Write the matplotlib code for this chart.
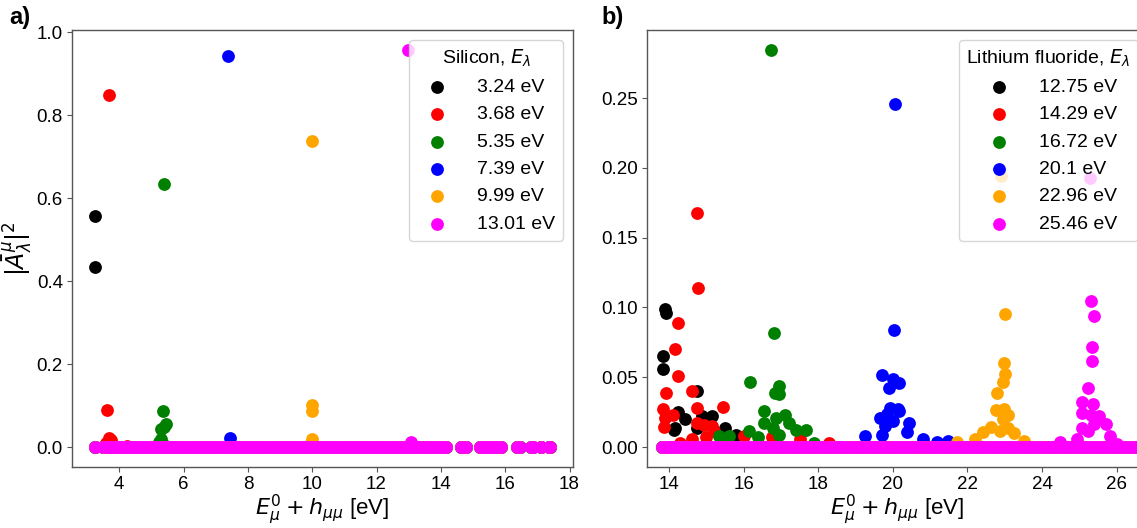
import numpy as np
import matplotlib
matplotlib.use('Agg')
import matplotlib.pyplot as plt

plt.rcParams['font.family'] = ['Liberation Sans', 'DejaVu Sans']
plt.rcParams['mathtext.fontset'] = 'dejavusans'

colors = ['black', 'red', 'green', 'blue', 'orange', 'magenta']

# ---- Silicon: basis energies E0_mu + h_mumu (all sit near zero weight)
si_levels = [3.24, 3.50, 3.58, 3.67, 3.75, 3.84, 3.92, 4.01, 4.10, 4.18, 4.27, 4.35,
             4.44, 4.53, 4.61, 4.70, 4.78, 4.87, 4.96, 5.04, 5.13, 5.21, 5.30, 5.39,
             5.47, 5.56, 5.64, 5.73, 5.82, 5.90, 5.99, 6.07, 6.16, 6.25, 6.33, 6.42,
             6.50, 6.59, 6.68, 6.76, 6.85, 6.93, 7.02, 7.11, 7.19, 7.28, 7.36, 7.45,
             7.54, 7.62, 7.71, 7.79, 7.88, 7.97, 8.05, 8.14, 8.22, 8.31, 8.40, 8.48,
             8.57, 8.65, 8.74, 8.83, 8.91, 9.00, 9.08, 9.17, 9.26, 9.34, 9.43, 9.51,
             9.60, 9.69, 9.77, 9.86, 9.94, 10.03, 10.12, 10.20, 10.29, 10.37, 10.46,
             10.55, 10.63, 10.72, 10.80, 10.89, 10.98, 11.06, 11.15, 11.23, 11.32,
             11.41, 11.49, 11.58, 11.66, 11.75, 11.84, 11.92, 12.01, 12.09, 12.18,
             12.27, 12.35, 12.44, 12.52, 12.61, 12.70, 12.78, 12.87, 12.95, 13.04,
             13.13, 13.21, 13.30, 13.38, 13.47, 13.56, 13.64, 13.73, 13.81, 13.90,
             13.99, 14.07, 14.16, 14.62, 14.70, 14.78, 15.22, 15.30, 15.38, 15.47,
             15.55, 15.63, 15.72, 15.80, 15.88, 16.38, 16.46, 16.80, 16.86, 17.10,
             17.35, 17.40]

si_labels = ['3.24 eV', '3.68 eV', '5.35 eV', '7.39 eV', '9.99 eV', '13.01 eV']

# visible non-zero weights of each Silicon exciton
si_peak_x = [
    [3.24, 3.24],
    [3.68, 3.63, 3.68, 3.73, 3.60, 4.25],
    [5.38, 5.37, 5.45, 5.40, 5.30, 5.30, 5.25, 5.40],
    [7.39, 7.43],
    [9.99, 9.99, 10.00, 10.00, 9.95],
    [12.98, 13.08],
]
si_peak_y = [
    [0.557, 0.433],
    [0.848, 0.090, 0.021, 0.016, 0.010, 0.003],
    [0.633, 0.088, 0.055, 0.049, 0.044, 0.020, 0.012, 0.006],
    [0.942, 0.021],
    [0.737, 0.102, 0.087, 0.019, 0.010],
    [0.957, 0.012],
]

# ---- Lithium fluoride basis energies
lif_levels = [13.80, 13.88, 13.97, 14.05, 14.14, 14.22, 14.31, 14.40, 14.48, 14.57,
              14.66, 14.74, 14.83, 14.91, 15.00, 15.09, 15.17, 15.26, 15.34, 15.43,
              15.52, 15.60, 15.69, 15.77, 15.86, 15.95, 16.03, 16.12, 16.20, 16.29,
              16.38, 16.46, 16.55, 16.63, 16.72, 16.81, 16.89, 16.98, 17.06, 17.15,
              17.24, 17.32, 17.41, 17.49, 17.58, 17.67, 17.75, 17.84, 17.92, 18.01,
              18.10, 18.18, 18.27, 18.35, 18.44, 18.53, 18.61, 18.70, 18.78, 18.87,
              18.96, 19.04, 19.13, 19.21, 19.30, 19.39, 19.47, 19.56, 19.64, 19.73,
              19.82, 19.90, 19.99, 20.07, 20.16, 20.25, 20.33, 20.42, 20.50, 20.59,
              20.68, 20.76, 20.85, 20.93, 21.02, 21.11, 21.19, 21.28, 21.36, 21.45,
              21.54, 21.62, 21.71, 21.79, 21.88, 21.97, 22.05, 22.14, 22.22, 22.31,
              22.40, 22.48, 22.57, 22.65, 22.74, 22.83, 22.91, 23.00, 23.08, 23.17,
              23.26, 23.34, 23.43, 23.51, 23.60, 23.69, 23.77, 23.86, 23.94, 24.03,
              24.12, 24.20, 24.29, 24.37, 24.46, 24.55, 24.63, 24.72, 24.80, 24.89,
              24.98, 25.06, 25.15, 25.23, 25.32, 25.41, 25.49, 25.58, 25.66, 25.75,
              25.84, 25.92, 26.01, 26.09, 26.18, 26.27, 26.35, 26.44, 26.52, 26.61,
              26.70, 26.78]

lif_labels = ['12.75 eV', '14.29 eV', '16.72 eV', '20.1 eV', '22.96 eV', '25.46 eV']

lif_peak_x = [
    [13.89, 13.93, 13.83, 13.83, 14.76, 14.24, 14.14, 14.17, 14.43, 14.89, 15.16,
     15.50, 14.76, 15.80],
    [14.76, 14.79, 14.24, 14.17, 14.24, 13.93, 14.62, 13.83, 14.76, 15.46, 13.86,
     14.11, 13.90, 14.76, 14.95, 15.16, 14.62, 15.00, 15.20, 14.30, 16.00, 16.76,
     17.50, 18.30],
    [16.73, 16.81, 16.17, 16.95, 16.84, 16.95, 16.55, 16.55, 16.86, 17.10, 17.22,
     17.40, 17.67, 16.80, 16.14, 15.33, 15.62, 16.38, 16.95, 17.90, 15.50],
    [20.05, 20.03, 19.71, 20.00, 20.16, 19.89, 19.93, 20.14, 19.65, 19.84, 20.17,
     20.43, 19.78, 20.00, 19.26, 19.71, 20.38, 20.81, 21.19, 21.48],
    [22.91, 23.00, 22.98, 23.02, 22.95, 22.80, 22.98, 22.76, 22.95, 23.10, 22.62,
     22.43, 23.10, 23.24, 22.19, 21.71, 23.52, 22.86],
    [25.29, 25.30, 25.38, 25.33, 25.33, 25.24, 25.08, 25.36, 25.08, 25.31, 25.52,
     25.71, 25.08, 25.38, 25.81, 25.24, 24.48, 26.00, 24.95],
]
lif_peak_y = [
    [0.099, 0.096, 0.065, 0.056, 0.040, 0.025, 0.012, 0.014, 0.020, 0.022, 0.022,
     0.014, 0.014, 0.009],
    [0.168, 0.114, 0.089, 0.070, 0.051, 0.039, 0.040, 0.027, 0.028, 0.029, 0.0145,
     0.023, 0.021, 0.0175, 0.016, 0.015, 0.006, 0.007, 0.0116, 0.003, 0.008, 0.007,
     0.006, 0.003],
    [0.2845, 0.082, 0.047, 0.0436, 0.039, 0.038, 0.026, 0.017, 0.021, 0.023, 0.0175,
     0.012, 0.012, 0.014, 0.0116, 0.008, 0.008, 0.007, 0.009, 0.003, 0.006],
    [0.2457, 0.084, 0.052, 0.049, 0.046, 0.042, 0.028, 0.027, 0.0206, 0.0235, 0.026,
     0.017, 0.015, 0.019, 0.008, 0.009, 0.011, 0.006, 0.004, 0.0045],
    [0.194, 0.095, 0.060, 0.0526, 0.0464, 0.039, 0.0275, 0.0265, 0.020, 0.023, 0.0145,
     0.011, 0.014, 0.0104, 0.006, 0.004, 0.0045, 0.0116],
    [0.193, 0.1045, 0.094, 0.072, 0.062, 0.042, 0.0325, 0.0306, 0.0246, 0.023, 0.022,
     0.0168, 0.014, 0.0164, 0.008, 0.0116, 0.004, 0.002, 0.006],
]

FS = 13.5
spine_col = '#555555'


def draw_panel(ax, levels, peak_x, peak_y, labels):
    for col, px, py, lab in zip(colors, peak_x, peak_y, labels):
        xs = list(levels) + px
        ys = [0.0] * len(levels) + py
        ax.scatter(xs, ys, s=85, color=col, label=lab, linewidths=0)
    for sp in ax.spines.values():
        sp.set_color(spine_col)
        sp.set_linewidth(1.0)
    ax.tick_params(labelsize=FS, length=3.5, width=0.8, color=spine_col, pad=3)
    ax.set_xlabel(r'$E^0_\mu + h_{\mu\mu}$ [eV]', fontsize=16, labelpad=0)
    return ax


fig = plt.figure(figsize=(11.37, 5.28), dpi=100)
ax1 = fig.add_axes([72 / 1137, 61 / 528, 501 / 1137, 437 / 528])
ax2 = fig.add_axes([647 / 1137, 61 / 528, 501 / 1137, 437 / 528])

draw_panel(ax1, si_levels, si_peak_x, si_peak_y, si_labels)
ax1.set_ylabel(r'$|\bar{A}^{\mu}_{\lambda}|^2$', fontsize=17, labelpad=2)
ax1.legend(title=r'Silicon, $E_\lambda$', loc='upper right', fontsize=14,
           title_fontsize=14, handletextpad=1.1)

draw_panel(ax2, lif_levels, lif_peak_x, lif_peak_y, lif_labels)
ax2.set_xlim(13.41, 26.84)
ax2.legend(title=r'Lithium fluoride, $E_\lambda$', loc='upper right', fontsize=14,
           title_fontsize=14, handletextpad=1.1)

fig.text(9 / 1137, 0.966, 'a)', fontsize=17, fontweight='bold', va='center')
fig.text(601 / 1137, 0.966, 'b)', fontsize=17, fontweight='bold', va='center')

fig.savefig('out.png', dpi=100)
